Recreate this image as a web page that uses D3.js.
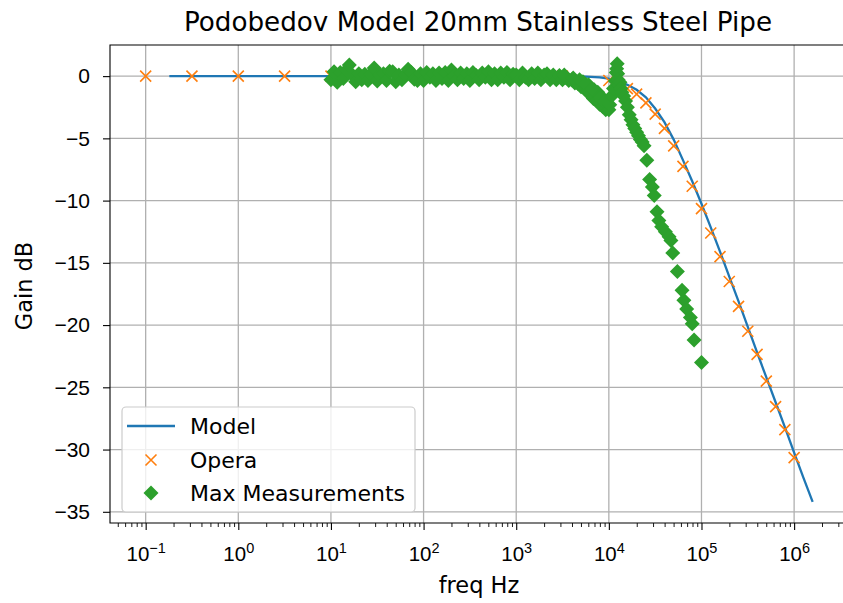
<!DOCTYPE html>
<html>
<head>
<meta charset="utf-8">
<script src="https://cdn.jsdelivr.net/npm/d3@7"></script>
<style>
  html, body { margin: 0; padding: 0; background: #fff; }
  svg { display: block; font-family: "DejaVu Sans", sans-serif; }
</style>
</head>
<body>
<svg id="chart" width="843" height="603"></svg>
<script>
// Podobedov model vs Opera simulation vs measured gain, 20 mm stainless pipe

const freqTicks = [0.1, 1, 10, 100, 1e3, 1e4, 1e5, 1e6];
const freqTickExp = ["\u22121", "0", "1", "2", "3", "4", "5", "6"];
const gainTicks = [0, -5, -10, -15, -20, -25, -30, -35];

// Model curve (Hz, dB)
const modelFreq = [0.18, 1, 10, 100, 1000, 3160, 5010, 6310, 7940, 10000, 12590, 15850,
  19950, 25120, 31620, 39810, 50120, 63100, 79430, 100000, 125900, 158500, 199500,
  251200, 316200, 398100, 501200, 631000, 794300, 1000000, 1259000, 1585000];
const modelGain = [0, 0, 0, 0, 0, -0.01, -0.03, -0.06, -0.1, -0.2, -0.4, -0.7,
  -1.1, -1.7, -2.6, -3.7, -5.1, -6.75, -8.45, -10.25, -12.15, -14.1, -16.1,
  -18.1, -20.15, -22.2, -24.2, -26.2, -28.2, -30.25, -32.25, -34.2];

// Opera simulation points (Hz, dB)
const operaFreq = [0.1, 0.316, 1, 3.16, 10, 31.6, 100, 316, 1000, 3160, 10000, 12590,
  15850, 19950, 25120, 31620, 39810, 50120, 63100, 79430, 100000, 125900, 158500,
  199500, 251200, 316200, 398100, 501200, 631000, 794300, 1000000];
const operaGain = [0, 0, 0, 0, 0, 0, 0, 0, 0, 0, -0.35, -0.6,
  -1.0, -1.45, -2.15, -3.05, -4.2, -5.6, -7.25, -8.85, -10.65, -12.6, -14.5,
  -16.5, -18.5, -20.5, -22.35, -24.5, -26.55, -28.4, -30.65];

// Max measurements (Hz, dB)
const measFreq = [
  10, 10.8, 11.7, 12.6, 13.6, 14.7, 15.8, 17.1, 18.5, 20.0, 21.5, 23.2, 25.1, 27.1, 29.3,
  31.6, 34.1, 36.9, 39.8, 43.0, 46.4, 50.1, 54.1, 58.4, 63.1, 68.1, 73.6, 79.4, 85.8, 92.6,
  100, 108, 117, 126, 136, 147, 158, 171, 185, 200, 215, 232, 251, 271, 293,
  316, 341, 369, 398, 430, 464, 501, 541, 584, 631, 681, 736, 794, 858, 926,
  1000, 1080, 1170, 1260, 1360, 1470, 1580, 1710, 1850, 2000, 2150, 2320, 2510, 2710, 2930,
  3160, 3410, 3690, 3980, 4300, 4640, 5010, 5410, 5840, 6310, 6810, 7360, 7940, 8580, 9260,
  5250, 6030, 6920, 7590, 8710, 3300, 4120, 4830, 5620, 6580, 8100, 9000,
  10000, 10230, 10720, 11220, 11750, 12020, 12160, 12300, 12450, 12590, 12880, 13180,
  13490, 13800, 14450, 15140, 15850, 16600, 17380, 18200, 19050, 19950, 20890, 21880,
  22910, 23990, 25700, 27540, 29510, 30900, 33110, 34670, 37150, 40740, 44670, 46770,
  48980, 54950, 61660, 64570, 69180, 75860, 79430, 83180, 100000];
const measGain = [
  -0.3, 0.35, -0.5, 0.3, -0.2, 0.5, 0.9, 0.1, -0.45, 0.2, -0.3, 0.15, -0.35, 0.2, 0.65,
  -0.4, 0.1, 0.2, -0.35, 0.4, 0.35, -0.45, 0.1, -0.3, 0.1, 0.55, 0.3, -0.25, -0.35, 0.2,
  -0.35, 0.3, -0.1, 0.2, -0.35, 0.25, -0.2, 0.3, -0.35, 0.5, 0.0, -0.3, 0.25, -0.2, 0.2,
  -0.35, 0.3, 0.05, -0.3, 0.25, -0.1, 0.35, -0.3, 0.2, -0.3, 0.25, -0.1, 0.3, -0.3, 0.15,
  0.1, -0.3, 0.25, -0.1, -0.3, 0.2, -0.2, 0.25, -0.3, 0.1, 0.2, -0.3, 0.1, -0.3, 0.05,
  -0.3, -0.1, -0.35, -0.3, -0.55, -0.6, -0.85, -0.95, -1.25, -1.45, -1.8, -1.95, -2.25, -2.45, -2.7,
  -0.45, -0.7, -1.1, -1.3, -1.8, 0.1, -0.15, -0.3, -0.65, -1.05, -1.75, -2.05,
  -2.7, -2.3, -1.6, -1.0, -0.4, 0.3, 0.6, 1.0, 0.2, -0.3, -0.7, -0.5,
  -1.0, -1.3, -1.6, -2.0, -2.5, -3.1, -3.5, -3.9, -4.2, -4.5, -4.8, -5.1,
  -5.3, -5.6, -6.75, -8.3, -8.9, -9.6, -10.9, -11.6, -12.1, -12.5, -12.9, -13.2,
  -14.2, -15.7, -17.2, -18.0, -18.7, -19.4, -19.9, -21.2, -23.0];

const colors = { model: "#1f77b4", opera: "#ff7f0e", meas: "#2ca02c" };

const svg = d3.select("#chart");
const plot = { left: 110, right: 846, top: 45, bottom: 523 };

const x = d3.scaleLog()
  .domain([Math.pow(10, -1.385), Math.pow(10, 6.56)])
  .range([plot.left, plot.right]);
const y = d3.scaleLinear()
  .domain([-35.9, 2.5])
  .range([plot.bottom, plot.top]);

svg.append("defs").append("clipPath").attr("id", "plot-clip")
  .append("rect")
  .attr("x", plot.left).attr("y", plot.top)
  .attr("width", plot.right - plot.left).attr("height", plot.bottom - plot.top);

// grid
const grid = svg.append("g").attr("stroke", "#b0b0b0").attr("stroke-width", 1.3);
grid.selectAll("line.gx").data(freqTicks).join("line")
  .attr("x1", d => x(d)).attr("x2", d => x(d))
  .attr("y1", plot.top).attr("y2", plot.bottom);
grid.selectAll("line.gy").data(gainTicks).join("line")
  .attr("x1", plot.left).attr("x2", plot.right)
  .attr("y1", d => y(d)).attr("y2", d => y(d));

const marks = svg.append("g").attr("clip-path", "url(#plot-clip)");

// model line
const modelData = modelFreq.map((f, i) => [f, modelGain[i]]);
marks.append("path")
  .datum(modelData)
  .attr("fill", "none")
  .attr("stroke", colors.model)
  .attr("stroke-width", 2.3)
  .attr("d", d3.line().x(d => x(d[0])).y(d => y(d[1])));

// Opera crosses
const cs = 5.5;
const operaData = operaFreq.map((f, i) => [f, operaGain[i]]);
marks.append("g").selectAll("path").data(operaData).join("path")
  .attr("transform", d => `translate(${x(d[0])},${y(d[1])})`)
  .attr("d", `M${-cs},${-cs}L${cs},${cs}M${-cs},${cs}L${cs},${-cs}`)
  .attr("stroke", colors.opera)
  .attr("stroke-width", 1.6)
  .attr("fill", "none");

// measured diamonds
const dm = 7.5;
const diamond = `M0,${-dm}L${dm},0L0,${dm}L${-dm},0Z`;
const measData = measFreq.map((f, i) => [f, measGain[i]]);
marks.append("g").selectAll("path").data(measData).join("path")
  .attr("transform", d => `translate(${x(d[0])},${y(d[1])})`)
  .attr("d", diamond)
  .attr("fill", colors.meas);

// spines
const spines = svg.append("g").attr("stroke", "#000").attr("stroke-width", 1.1).attr("fill", "none");
spines.append("path")
  .attr("d", `M${plot.left},${plot.bottom}V${plot.top}H${plot.right}V${plot.bottom}Z`);

// x axis: major ticks with 10^n labels
const xAxis = svg.append("g")
  .attr("transform", `translate(0,${plot.bottom})`)
  .call(d3.axisBottom(x).tickValues(freqTicks).tickSize(7).tickPadding(16).tickFormat(() => ""));
xAxis.select(".domain").remove();
xAxis.selectAll(".tick line").attr("stroke", "#000").attr("stroke-width", 1.1);
xAxis.selectAll(".tick text")
  .attr("font-size", 20.5).attr("fill", "#000")
  .each(function (d, i) {
    const t = d3.select(this);
    t.append("tspan").text("10");
    t.append("tspan").attr("dy", "-0.5em").attr("font-size", 14.5).text(freqTickExp[i]);
  });

// x axis: minor ticks
const minorTicks = x.ticks().filter(v => {
  const l = Math.log10(v);
  return Math.abs(l - Math.round(l)) > 1e-6;
});
const xMinor = svg.append("g")
  .attr("transform", `translate(0,${plot.bottom})`)
  .call(d3.axisBottom(x).tickValues(minorTicks).tickSize(4).tickFormat(() => ""));
xMinor.select(".domain").remove();
xMinor.selectAll(".tick line").attr("stroke", "#000").attr("stroke-width", 0.9);

// y axis
const yAxis = svg.append("g")
  .attr("transform", `translate(${plot.left},0)`)
  .call(d3.axisLeft(y).tickValues(gainTicks).tickSize(7).tickPadding(13)
    .tickFormat(d => (d < 0 ? "\u2212" + Math.abs(d) : String(d))));
yAxis.select(".domain").remove();
yAxis.selectAll(".tick line").attr("stroke", "#000").attr("stroke-width", 1.1);
yAxis.selectAll(".tick text").attr("font-size", 21).attr("fill", "#000");

// titles
svg.append("text")
  .attr("x", 478).attr("y", 31)
  .attr("text-anchor", "middle")
  .attr("font-size", 26.2)
  .text("Podobedov Model 20mm Stainless Steel Pipe");
svg.append("text")
  .attr("x", 479).attr("y", 593)
  .attr("text-anchor", "middle")
  .attr("font-size", 22.5)
  .text("freq Hz");
svg.append("text")
  .attr("transform", "translate(32,286) rotate(-90)")
  .attr("text-anchor", "middle")
  .attr("font-size", 22.5)
  .text("Gain dB");

// legend
const legend = svg.append("g");
legend.append("rect")
  .attr("x", 122).attr("y", 407).attr("width", 293).attr("height", 105)
  .attr("rx", 4)
  .attr("fill", "#fff").attr("fill-opacity", 0.8)
  .attr("stroke", "#cccccc").attr("stroke-width", 1.2);
const legendItems = [
  { label: "Model", kind: "line", color: colors.model, cy: 426 },
  { label: "Opera", kind: "cross", color: colors.opera, cy: 460 },
  { label: "Max Measurements", kind: "diamond", color: colors.meas, cy: 493 }
];
legendItems.forEach(item => {
  if (item.kind === "line") {
    legend.append("line")
      .attr("x1", 127).attr("x2", 175).attr("y1", item.cy).attr("y2", item.cy)
      .attr("stroke", item.color).attr("stroke-width", 2.3);
  } else if (item.kind === "cross") {
    legend.append("path")
      .attr("transform", `translate(151,${item.cy})`)
      .attr("d", `M${-cs},${-cs}L${cs},${cs}M${-cs},${cs}L${cs},${-cs}`)
      .attr("stroke", item.color).attr("stroke-width", 1.6);
  } else {
    legend.append("path")
      .attr("transform", `translate(151,${item.cy})`)
      .attr("d", diamond)
      .attr("fill", item.color);
  }
  legend.append("text")
    .attr("x", 190).attr("y", item.cy).attr("dy", "0.36em")
    .attr("font-size", 22)
    .text(item.label);
});
</script>
</body>
</html>
